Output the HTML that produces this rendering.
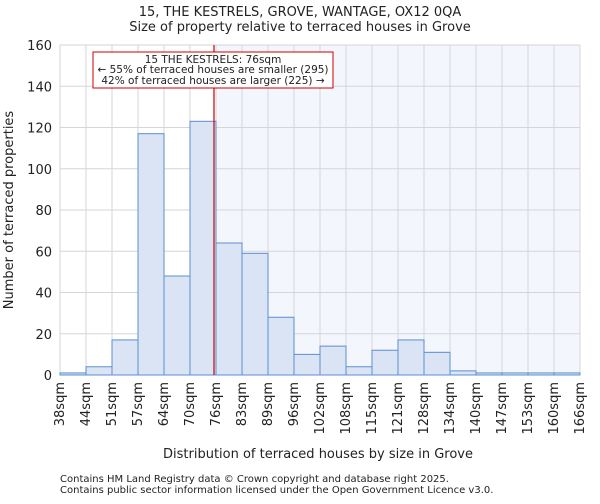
<!DOCTYPE html>
<html><head><meta charset="utf-8"><style>
body{margin:0;background:#fff;font-family:"DejaVu Sans","Liberation Sans",sans-serif}
svg text{font-family:"DejaVu Sans","Liberation Sans",sans-serif;fill:#222}
</style></head><body>
<svg id="c" width="600" height="500" xmlns="http://www.w3.org/2000/svg"></svg>
<script>
const categories=["38sqm","44sqm","51sqm","57sqm","64sqm","70sqm","76sqm","83sqm","89sqm","96sqm","102sqm","108sqm","115sqm","121sqm","128sqm","134sqm","140sqm","147sqm","153sqm","160sqm","166sqm"];
const counts=[1,4,17,117,48,123,64,59,28,10,14,4,12,17,11,2,1,1,1,1];
const yTicks=[0,20,40,60,80,100,120,140,160];
const markerBin=6;
const svg=document.getElementById('c');const NS='http://www.w3.org/2000/svg';
const L=60,R=580,T=45,B=375,nb=counts.length,bw=(R-L)/nb;
const x=i=>L+i*bw,y=v=>B-(v/160)*(B-T);
function mk(t,a,p){const e=document.createElementNS(NS,t);for(const k in a)e.setAttribute(k,a[k]);(p||svg).appendChild(e);return e;}
let e=mk('rect',{x:x(markerBin),y:T,width:R-x(markerBin),height:B-T,fill:'#f4f6fd'});


for(let i=0;i<=nb;i++){e=mk('line',{x1:x(i),x2:x(i),y1:T,y2:B,stroke:'#d6d6d6'});}
yTicks.forEach(v=>{e=mk('line',{x1:L,x2:R,y1:y(v),y2:y(v),stroke:'#d6d6d6'});
e=mk('text',{x:L-8,y:y(v)+5,'text-anchor':'end','font-size':13});e.textContent=v;});
counts.forEach((v,i)=>{e=mk('rect',{x:x(i),y:y(v),width:bw,height:B-y(v),fill:'#dae4f4',stroke:'#5b8fd0','stroke-width':1});});
categories.forEach((c,i)=>{e=mk('text',{transform:`translate(${x(i)+4},382) rotate(-90)`,'text-anchor':'end','font-size':13});e.textContent=c;});
e=mk('line',{x1:x(markerBin)-2,x2:x(markerBin)-2,y1:T,y2:B,stroke:'#cc0000','stroke-width':1.2});
e=mk('rect',{x:93,y:52,width:240,height:36,fill:'#fff',stroke:'#cc0000'});
[["15 THE KESTRELS: 76sqm",63],["← 55% of terraced houses are smaller (295)",73],["42% of terraced houses are larger (225) →",84]].forEach(([t,yy])=>{e=mk('text',{x:213,y:yy,'text-anchor':'middle','font-size':10.5});e.textContent=t;});
[["15, THE KESTRELS, GROVE, WANTAGE, OX12 0QA",16,13],["Size of property relative to terraced houses in Grove",31,13]].forEach(([t,yy,fs])=>{e=mk('text',{x:300,y:yy,'text-anchor':'middle','font-size':fs});e.textContent=t;});
e=mk('text',{x:318,y:458,'text-anchor':'middle','font-size':13});e.textContent='Distribution of terraced houses by size in Grove';
e=mk('text',{transform:'translate(13,210) rotate(-90)','text-anchor':'middle','font-size':13});e.textContent='Number of terraced properties';
[["Contains HM Land Registry data © Crown copyright and database right 2025.",482],["Contains public sector information licensed under the Open Government Licence v3.0.",493]].forEach(([t,yy])=>{e=mk('text',{x:60,y:yy,'font-size':10,fill:'#444'});e.textContent=t;});
</script></body></html>
